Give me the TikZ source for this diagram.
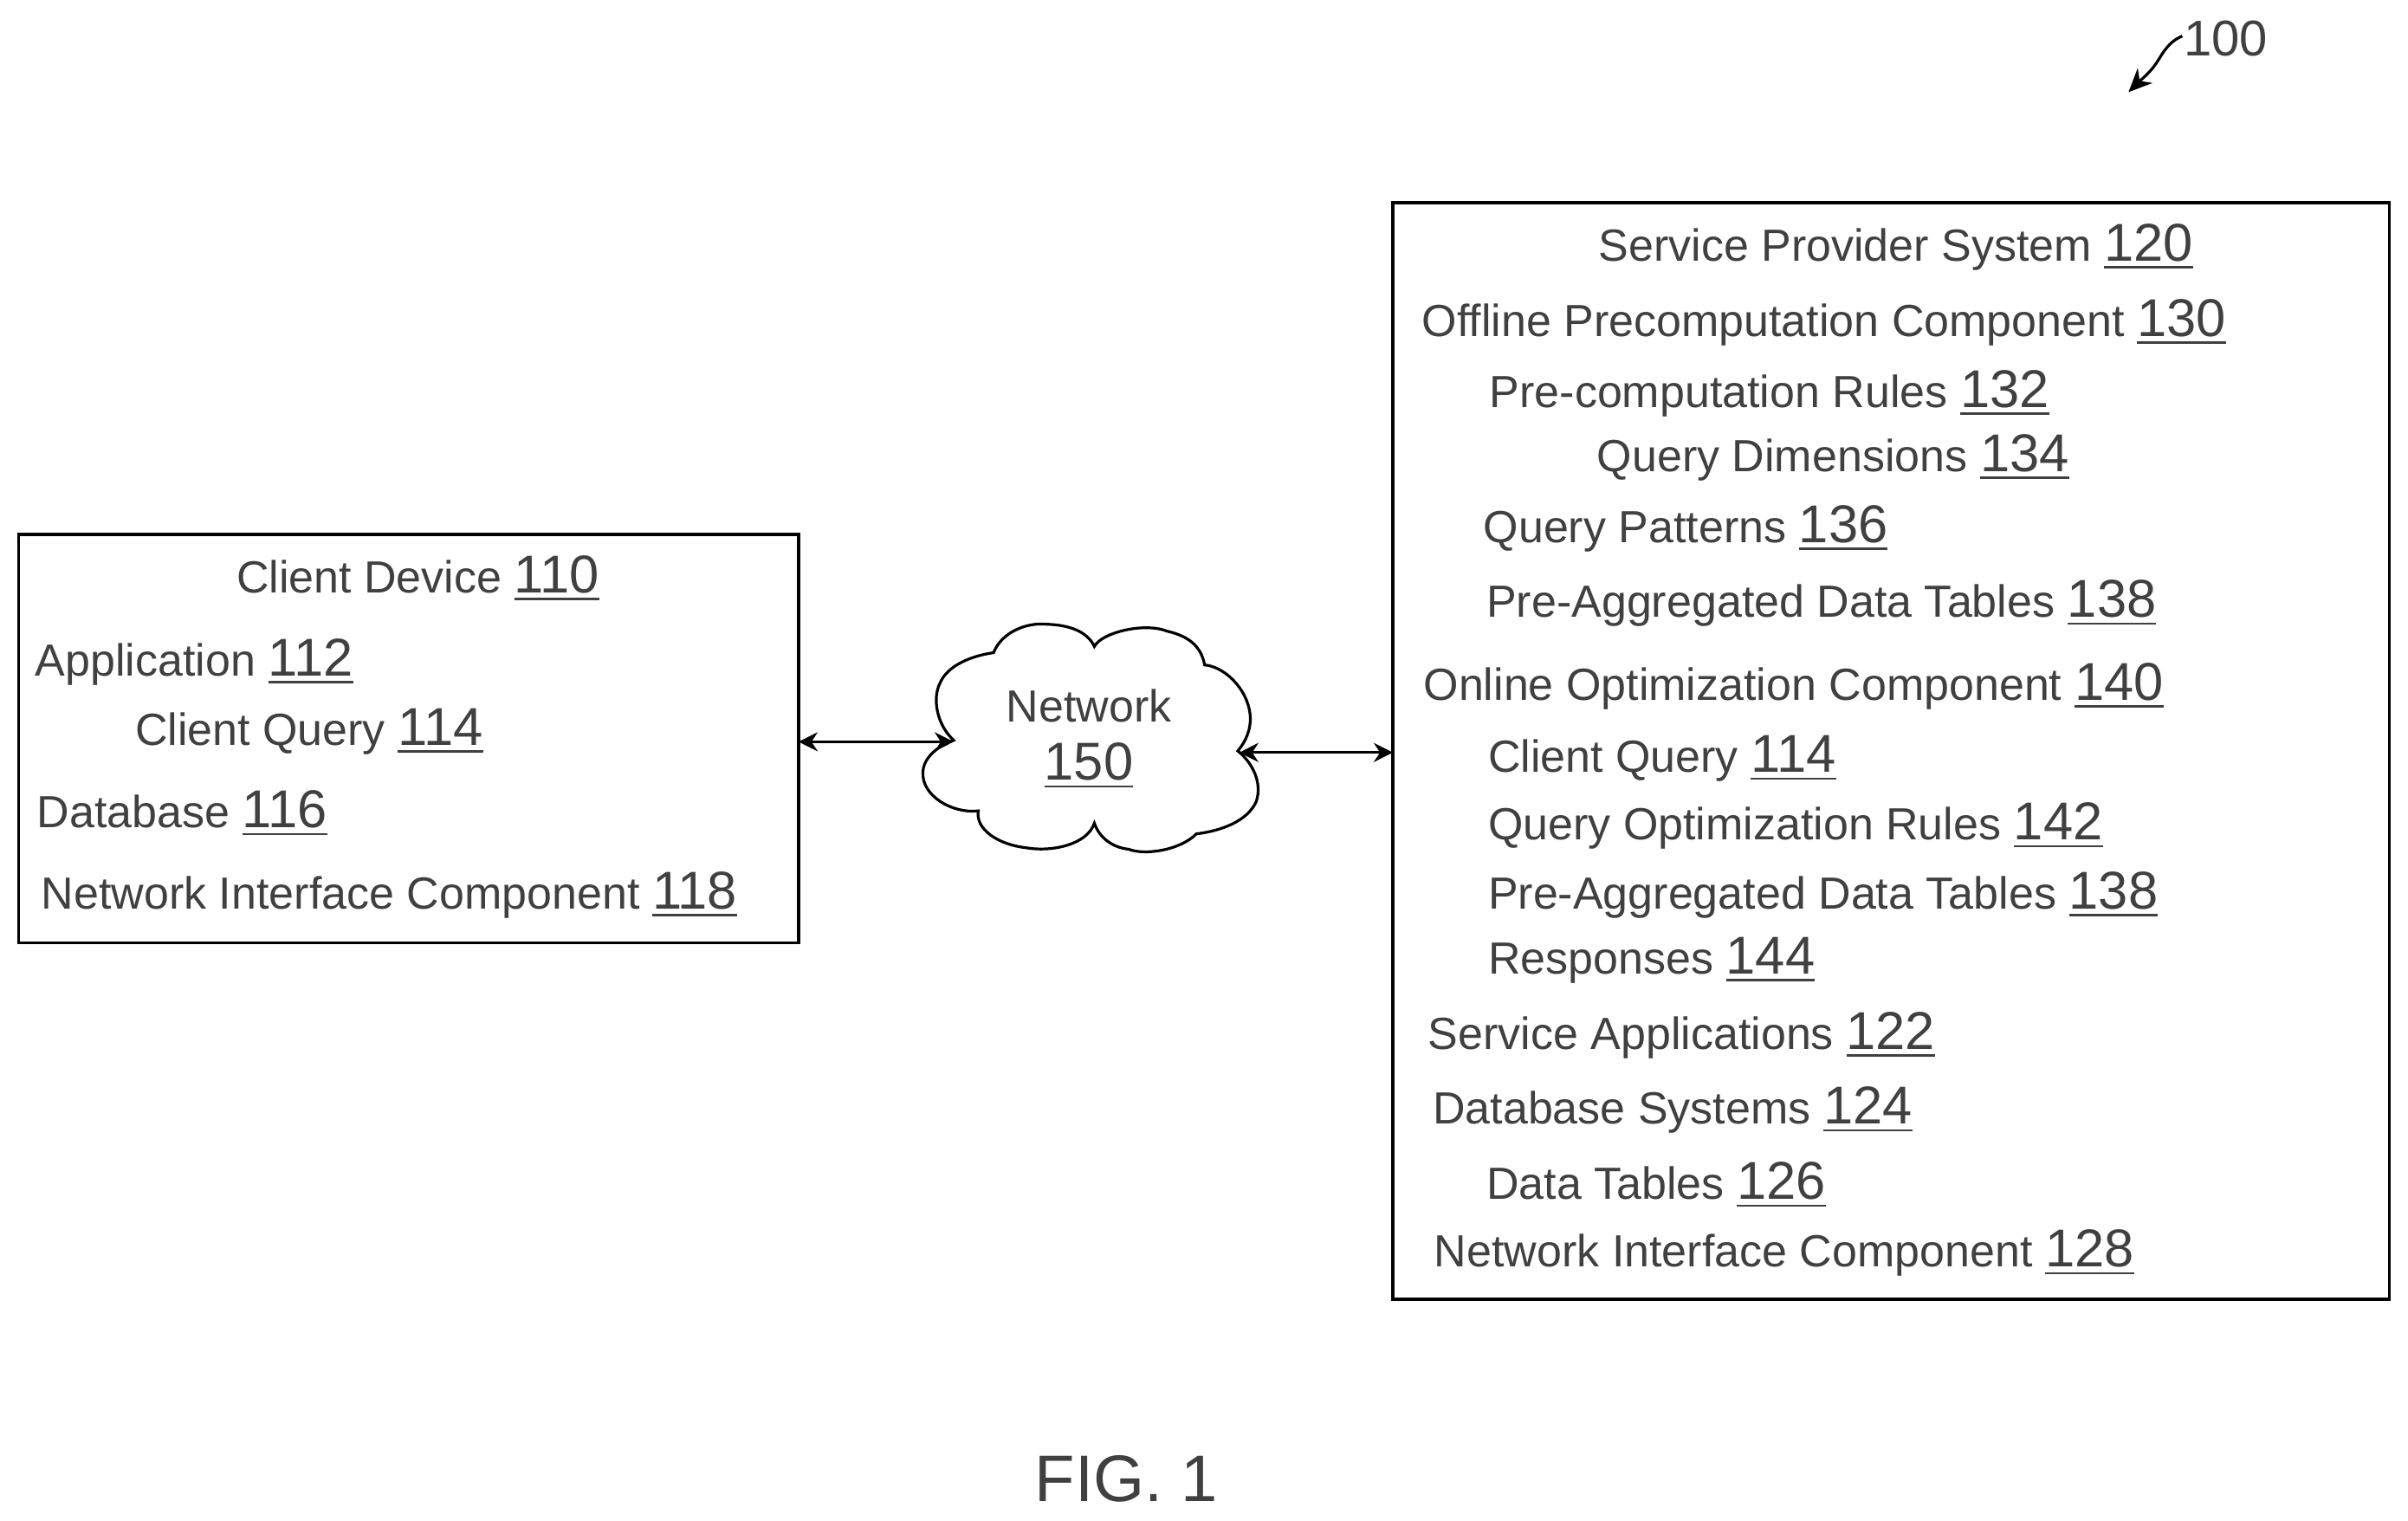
\documentclass[tikz,border=0pt]{standalone}
\usepackage{fontspec}
\setmainfont{Liberation Sans}
\usetikzlibrary{arrows.meta}
\definecolor{ink}{gray}{0.25}
\newcommand\refn[1]{{\fontsize{61.5}{64}\selectfont\setbox0\hbox{#1}\rlap{\rule[-8.5pt]{\wd0}{2.8pt}}\box0}}
\tikzset{
  lbl/.style={anchor=base west,inner sep=0pt,outer sep=0pt,text=ink,yshift=1.6pt,font=\fontsize{52}{60}\selectfont},
  boxed/.style={draw=black,line width=3.2pt,inner sep=0pt,outer sep=0pt,anchor=north west},
  link/.style={draw=black,line width=3pt,{Stealth[length=22pt,width=22pt]}-{Stealth[length=22pt,width=22pt]}},
  cloudline/.style={draw=black,line width=3.2pt,line join=miter,fill=white},
}
\begin{document}
\begin{tikzpicture}[x=1.773pt,y=-1.773pt]
\useasboundingbox (0,0) rectangle (1568,990);
% boxes
\node[boxed,minimum width=900.7pt,minimum height=471.6pt] (client) at (12,348) {};
\node[boxed,minimum width=1150.7pt,minimum height=1266pt] (provider) at (907,132) {};
% cloud
\draw[cloudline] (647,425)
  .. controls (652,412) and (668,405) .. (682,406.5)
  .. controls (696,407) and (708,411) .. (712.6,421)
  .. controls (717,412) and (745,405) .. (760,411)
  .. controls (773,414) and (782,420) .. (784.4,433)
  .. controls (797,434) and (812,448) .. (814,465)
  .. controls (815,475) and (811,483) .. (806,489)
  .. controls (816,497) and (822,510) .. (818,522)
  .. controls (812,535) and (795,541) .. (779,543)
  .. controls (768,554) and (745,557) .. (735,553)
  .. controls (725,552) and (716,546) .. (712.6,536)
  .. controls (708,550) and (685,555) .. (668,552)
  .. controls (650,550) and (635,540) .. (637,528)
  .. controls (620,530) and (600,518) .. (601,503)
  .. controls (601,494) and (610,486) .. (621,482)
  .. controls (610,472) and (607,455) .. (612,445)
  .. controls (617,433) and (633,427) .. (647,425) -- cycle;
\node[lbl,anchor=base] (nettext) at (709,471) {Network};
\node[lbl,anchor=base] (netnum) at (709,509) {\refn{150}};
\coordinate (cloudL) at (621,483);
\coordinate (cloudR) at (807,490);
\draw[link] (client.east |- cloudL) -- (cloudL);
\draw[link] (cloudR) -- (provider.west |- cloudR);
% client texts
\node[lbl] (t110) at (154,387) {Client Device \refn{110}};
\node[lbl] (t112) at (23,441) {Application \refn{112}};
\node[lbl] (t114a) at (88,486) {Client Query \refn{114}};
\node[lbl] (t116) at (24,540) {Database \refn{116}};
\node[lbl] (t118) at (27,593) {Network Interface Component \refn{118}};
% provider texts
\node[lbl] (t120) at (1041,171) {Service Provider System \refn{120}};
\node[lbl] (t130) at (926,220) {Offline Precomputation Component \refn{130}};
\node[lbl] (t132) at (970,266) {Pre-computation Rules \refn{132}};
\node[lbl] (t134) at (1040,308) {Query Dimensions \refn{134}};
\node[lbl] (t136) at (966,354) {Query Patterns \refn{136}};
\node[lbl] (t138a) at (968,403) {Pre-Aggregated Data Tables \refn{138}};
\node[lbl] (t140) at (927,457) {Online Optimization Component \refn{140}};
\node[lbl] (t114b) at (969,504) {Client Query \refn{114}};
\node[lbl] (t142) at (969,548) {Query Optimization Rules \refn{142}};
\node[lbl] (t138b) at (969,593) {Pre-Aggregated Data Tables \refn{138}};
\node[lbl] (t144) at (969,635) {Responses \refn{144}};
\node[lbl] (t122) at (930,684) {Service Applications \refn{122}};
\node[lbl] (t124) at (933,733) {Database Systems \refn{124}};
\node[lbl] (t126) at (968,782) {Data Tables \refn{126}};
\node[lbl] (t128) at (934,826) {Network Interface Component \refn{128}};
% reference numeral
\node[lbl,font=\fontsize{58}{60}\selectfont] (t100) at (1422,37.5) {100};
\coordinate (tipstart) at (1421,23.5);
\coordinate (tipend) at (1386,60);
\draw[draw=black,line width=3.2pt,-{Stealth[length=27pt,width=24pt]}] (tipstart)
  .. controls (1410,28) and (1407,38) .. (1402,44)
  .. controls (1398,49) and (1393,53) .. (tipend);
% figure caption
\node[lbl,font=\fontsize{76}{80}\selectfont] (fig) at (674,978.5) {FIG. 1};
\end{tikzpicture}
\end{document}
